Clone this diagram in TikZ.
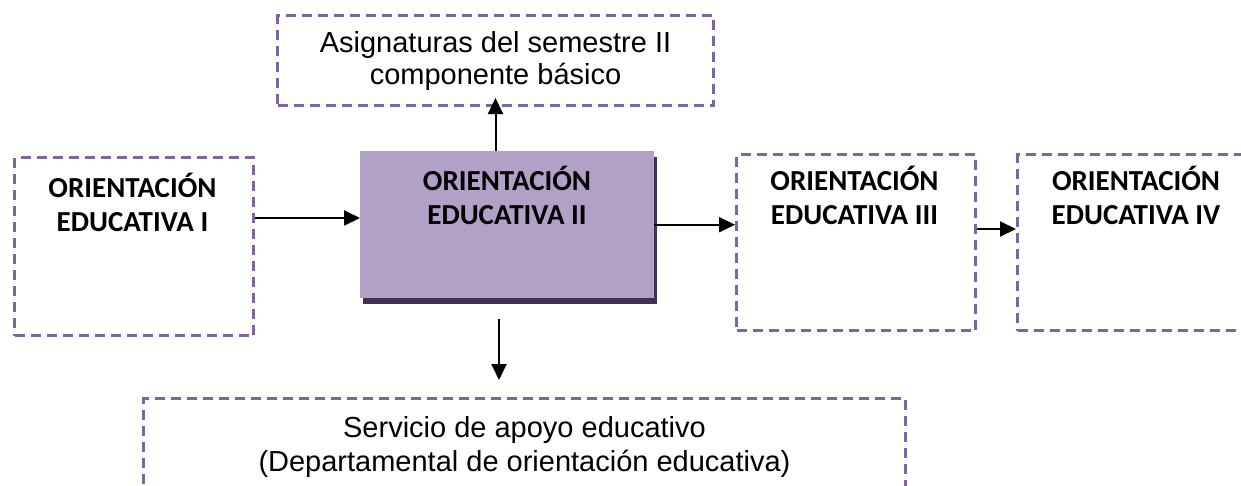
\documentclass[tikz,border=0pt]{standalone}
\usepackage{fontspec}
\usetikzlibrary{arrows.meta,shadows,calc}
\newfontfamily\calfont{Carlito}
\newfontfamily\arialfont{Liberation Sans}
\definecolor{dashc}{HTML}{8064A2}
\definecolor{boxfill}{HTML}{B2A1C7}
\definecolor{shadowc}{HTML}{3F3151}
\begin{document}
\begin{tikzpicture}[x=1pt,y=-1pt,
  dbox/.style={draw=dashc, line width=3pt, dash pattern=on 10pt off 6pt, rectangle, inner sep=0pt, anchor=north west},
  btxt/.style={font=\calfont\bfseries\fontsize{29}{34}\selectfont, align=center, inner sep=0pt},
  ltxt/.style={font=\arialfont\fontsize{29}{32}\selectfont, align=center},
  arr/.style={-{Triangle[length=16pt,width=15pt]}, line width=2pt, black}]
\useasboundingbox (0,0) rectangle (1241,485);
\clip (0,0) rectangle (1241,485);

% left box I
\node[dbox, minimum width=239pt, minimum height=178pt] (b1) at (13,156) {};
\node[btxt] (t1) at (132.5,202) {ORIENTACIÓN\\EDUCATIVA I};

% center box II
\node[rectangle, fill=boxfill, general shadow={fill=shadowc, shadow xshift=3pt, shadow yshift=-6pt},
      minimum width=294pt, minimum height=147pt, anchor=north west, inner sep=0pt] (c) at (360,151) {};
\node[btxt] (t2) at (507,195) {ORIENTACIÓN\\EDUCATIVA II};

% box III
\node[dbox, minimum width=239pt, minimum height=176pt] (b3) at (735,153) {};
\node[btxt] (t3) at (854.5,195) {ORIENTACIÓN\\EDUCATIVA III};

% box IV
\node[dbox, minimum width=241pt, minimum height=176pt] (b4) at (1016,153) {};
\node[btxt] (t4) at (1136,195) {ORIENTACIÓN\\EDUCATIVA IV};

% top box
\node[dbox, ltxt, minimum width=436pt, minimum height=90pt] (top) at (276,14)
  {Asignaturas del semestre II\\componente básico};

% bottom box
\node[dbox, ltxt, font=\arialfont\fontsize{29}{34}\selectfont, minimum width=762pt, minimum height=97pt] (bot) at (142,397)
  {Servicio de apoyo educativo\\(Departamental de orientación educativa)};

% connectors
\draw[arr] (b1.east |- 0,218) -- (c.west |- 0,218);
\draw[arr] (c.east) -- (b3.west |- c.east);
\draw[arr] (b3.east |- 0,229) -- (b4.west |- 0,229);
\draw[arr] (c.north -| top.south) -- ([yshift=9pt]top.south);
\coordinate (d1) at (499,319);
\coordinate (d2) at (499,380);
\draw[arr] (d1) -- (d2);
\end{tikzpicture}
\end{document}
